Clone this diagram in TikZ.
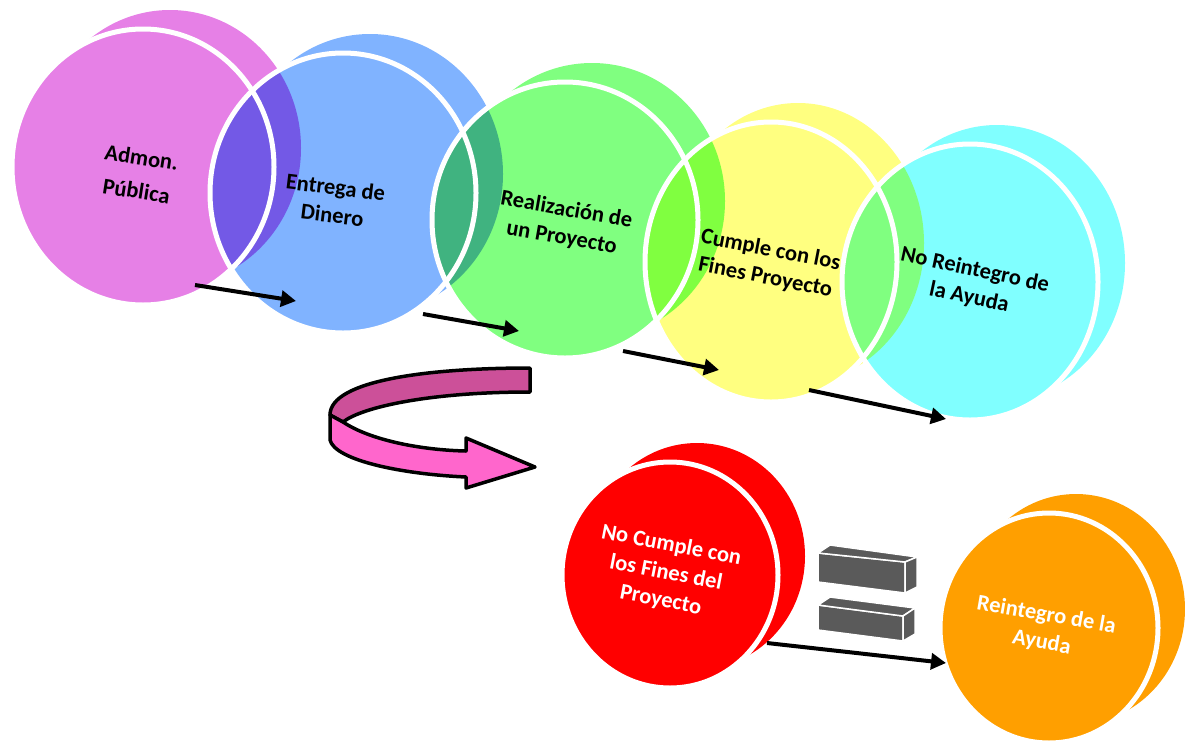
\documentclass[tikz,border=0pt]{standalone}
\usepackage{fontspec}
\setmainfont{Carlito}
\usetikzlibrary{arrows.meta}

\definecolor{rosa}{HTML}{E680E6}
\definecolor{azul}{HTML}{80B3FF}
\definecolor{verde}{HTML}{80FF80}
\definecolor{amarillo}{HTML}{FFFF80}
\definecolor{celeste}{HTML}{80FFFF}
\definecolor{rojo}{HTML}{FF0000}
\definecolor{naranja}{HTML}{FF9F00}
\definecolor{rosaosc}{HTML}{CC5099}
\definecolor{rosaclaro}{HTML}{FF66CC}
\definecolor{gris}{HTML}{5A5A5A}

\tikzset{
  etiq/.style={font=\bfseries\fontsize{22.5}{28}\selectfont, align=center, inner sep=0pt},
  flecha/.style={line width=4pt, -{Triangle[length=15pt,width=16pt]}},
  borde/.style={white, line width=5pt},
  cinta/.style={draw=black, line width=3.5pt, line join=round},
  barra/.style={fill=gris, draw=white, line width=1.5pt, line join=round}
}

% cx, cy, rx, ry, color
\newcommand{\disco}[5]{%
  \fill[#5, blend mode=multiply] (#1+27,#2-19) ellipse [x radius=#3, y radius=#4]
        (#1,#2) ellipse [x radius=#3, y radius=#4];}
\newcommand{\aro}[4]{%
  \draw[borde] (#1,#2) ellipse [x radius=#3, y radius=#4];}

\begin{document}
\begin{tikzpicture}[x=1pt, y=-1pt]
      \useasboundingbox (0,0) rectangle (1185,742);

      \disco{143}{167}{131}{138}{rosa}
      \disco{343}{193}{133}{140}{azul}
      \disco{565}{220}{133}{138}{verde}
      \disco{771}{262}{126}{140}{amarillo}
      \disco{970}{282}{128}{138}{celeste}
      \disco{670}{575}{108}{113}{rojo}
      \disco{1049}{628}{109}{115}{naranja}

      \aro{143}{167}{131}{138}
      \aro{343}{193}{133}{140}
      \aro{565}{220}{133}{138}
      \aro{771}{262}{126}{140}
      \aro{970}{282}{128}{138}
      \aro{670}{575}{108}{113}
      \aro{1049}{628}{109}{115}

        \node[etiq, rotate=-9] (admon) at (139,174){Admon.\\[6pt]Pública};
        \node[etiq, rotate=-7] (entrega) at (334,201){Entrega de\\Dinero};
        \node[etiq, rotate=-10] (realiz) at (564,224){Realización de\\un Proyecto};
        \node[etiq, rotate=-11] (cumple) at (768,264){Cumple con los\\Fines Proyecto};
        \node[etiq, rotate=-12] (noreint) at (972,284){No Reintegro de\\la Ayuda};
        \node[etiq, rotate=-11, text=white] (nocumple) at (666,573){No Cumple con\\los Fines del\\Proyecto};
        \node[etiq, rotate=-10, text=white] (reint) at (1044,629){Reintegro de la\\Ayuda};

      \coordinate (a1) at (195,285);  \coordinate (b1) at (296,301);
      \coordinate (a2) at (423,314);  \coordinate (b2) at (519,331);
      \coordinate (a3) at (623,351);  \coordinate (b3) at (719,370);
      \coordinate (a4) at (809,390);  \coordinate (b4) at (946,419);
      \coordinate (a5) at (767,643);  \coordinate (b5) at (946,663);
      \draw[flecha] (a1) to (b1);
      \draw[flecha] (a2) to (b2);
      \draw[flecha] (a3) to (b3);
      \draw[flecha] (a4) to (b4);
      \draw[flecha] (a5) to (b5);

      \filldraw[cinta, fill=rosaosc] (530,368) .. controls (430,368) and (330,380) .. (330,415)
        -- (343,422) .. controls (362,407) and (430,392) .. (530,392) -- cycle;
      \filldraw[cinta, fill=rosaclaro] (343,422) .. controls (370,440) and (420,450) .. (466,451)
        -- (466,438) -- (535,467) -- (466,488) -- (466,477)
        .. controls (400,474) and (335,460) .. (330,440) -- (330,415) -- cycle;

      \filldraw[barra] (818,553) -- (905,562) -- (905,593) -- (818,582) -- cycle;
      \filldraw[barra] (818,553) -- (830,545) -- (917,557) -- (905,562) -- cycle;
      \filldraw[barra] (905,562) -- (917,557) -- (917,587) -- (905,593) -- cycle;
      \filldraw[barra] (818,605) -- (903,616) -- (903,641) -- (818,630) -- cycle;
      \filldraw[barra] (818,605) -- (830,597) -- (915,608) -- (903,616) -- cycle;
      \filldraw[barra] (903,616) -- (915,608) -- (915,634) -- (903,641) -- cycle;

    \end{tikzpicture}
\end{document}
